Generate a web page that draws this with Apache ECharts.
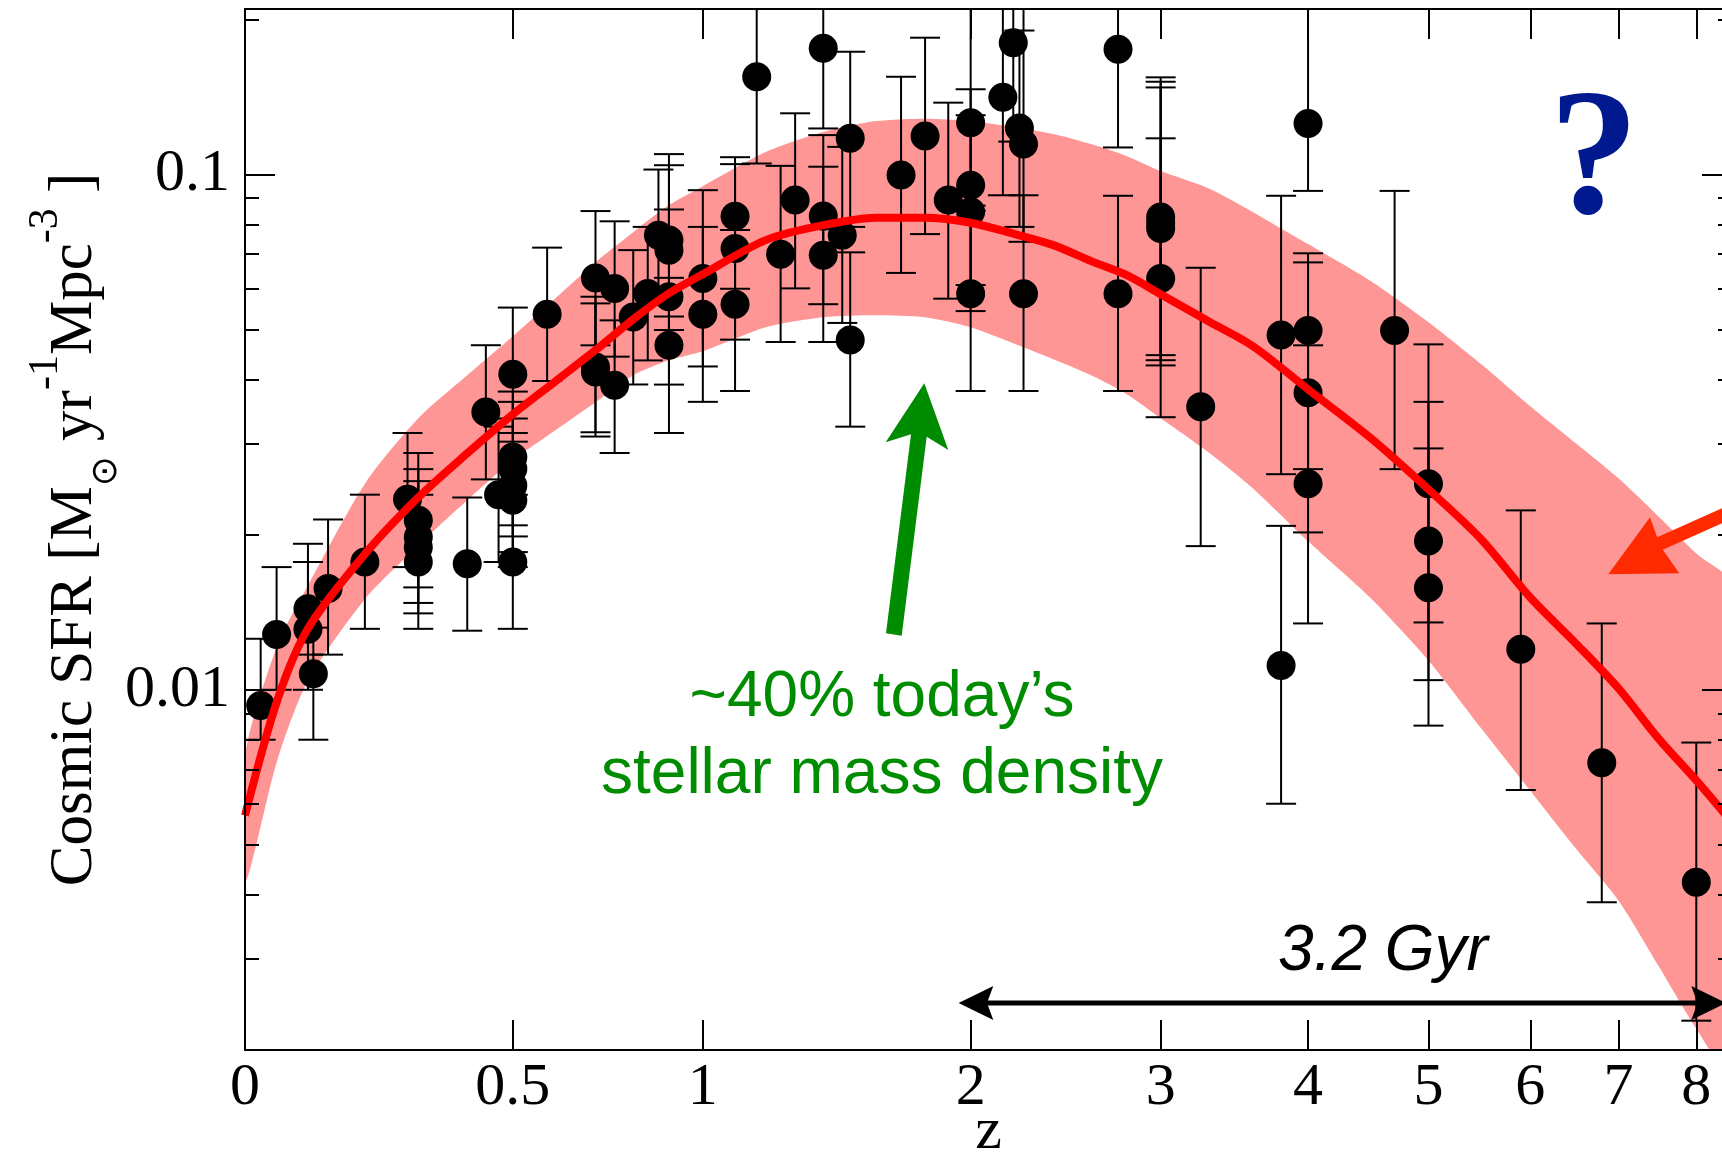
<!DOCTYPE html>
<html><head><meta charset="utf-8">
<script src="https://cdn.jsdelivr.net/npm/echarts@6/dist/echarts.min.js"></script>
<style>html,body{margin:0;padding:0;background:#fff}#c{width:1722px;height:1153px}</style>
</head><body><div id="c"></div>
<script>
// ---------- data ----------
const zTicks = [0, 0.5, 1, 2, 3, 4, 5, 6, 7, 8];
const yMajorTicks = [0.01, 0.1];
const yMinorTicks = [0.003, 0.004, 0.005, 0.006, 0.007, 0.008, 0.009,
                     0.02, 0.03, 0.04, 0.05, 0.06, 0.07, 0.08, 0.09, 0.2];
const zRange = [0, 8.5];
const sfrRange = [0.002, 0.2094];

// model curve and its shaded band
const curveZ = [0,0.05,0.1,0.2,0.3,0.4,0.5,0.6,0.7,0.8,0.9,1.0,1.2,1.4,1.6,1.8,2.0,2.2,2.4,2.6,2.8,3.0,3.3,3.6,4.0,4.5,5.0,5.5,6.0,6.5,7.0,7.5,8.0,8.5];
const curveSFR = [0.0057,0.00953,0.01315,0.01839,0.02362,0.02876,0.03424,0.03968,0.04559,0.05236,0.05881,0.06403,0.07457,0.07971,0.08241,0.08241,0.0806,0.07674,0.07291,0.06788,0.06375,0.05855,0.0519,0.04641,0.03829,0.03076,0.02448,0.01958,0.0151,0.0123,0.01006,0.00804,0.00667,0.00553];
const bandUpper = [0.00746,0.01219,0.01594,0.0252,0.03363,0.04076,0.04853,0.05751,0.06757,0.07727,0.0872,0.0949,0.1105,0.1208,0.1269,0.1283,0.1269,0.1235,0.1198,0.1145,0.1085,0.1015,0.094,0.08449,0.07324,0.06205,0.05167,0.04281,0.03549,0.03008,0.02572,0.0217,0.01839,0.01594];
const bandLower = [0.00422,0.00729,0.01042,0.01504,0.01906,0.02331,0.02787,0.03188,0.03613,0.04076,0.04358,0.04539,0.05053,0.05284,0.05332,0.05284,0.05053,0.04703,0.04378,0.04076,0.03745,0.03363,0.02889,0.02459,0.01941,0.01504,0.0114,0.00841,0.00637,0.00492,0.0039,0.00291,0.0022,0.00178];

// measurements with error bars
const pointZ = [0.024,0.049,0.10,0.10,0.109,0.134,0.199,0.279,0.30,0.30,0.30,0.30,0.40,0.44,0.468,0.50,0.50,0.50,0.50,0.50,0.50,0.58,0.70,0.70,0.70,0.75,0.75,0.80,0.84,0.87,0.90,0.90,0.90,0.90,1.00,1.00,1.10,1.10,1.10,1.17,1.25,1.30,1.40,1.40,1.40,1.47,1.50,1.50,1.70,1.80,1.90,2.00,2.00,2.00,2.00,2.15,2.20,2.23,2.25,2.25,2.75,2.75,3.00,3.00,3.00,3.00,3.25,3.80,3.80,4.00,4.00,4.00,4.00,4.70,5.00,5.00,5.00,5.90,6.80,8.00];
const pointSFR = [0.00932,0.0128,0.01437,0.01311,0.01074,0.01573,0.01769,0.02342,0.02132,0.01979,0.01891,0.01769,0.01757,0.03459,0.0239,0.04094,0.02829,0.02686,0.02492,0.02331,0.01769,0.05354,0.06297,0.04229,0.04136,0.06006,0.03899,0.05291,0.05873,0.0762,0.0746,0.0713,0.0579,0.0466,0.06279,0.05354,0.08298,0.07186,0.05599,0.1547,0.070,0.0892,0.1757,0.083,0.0697,0.0762,0.1175,0.0477,0.0997,0.1187,0.0892,0.1259,0.0953,0.0846,0.0587,0.1411,0.18,0.1231,0.1145,0.0587,0.1749,0.0587,0.0827,0.0806,0.0785,0.0628,0.0354,0.0488,0.01115,0.1256,0.0498,0.0377,0.0251,0.0498,0.0251,0.01943,0.01578,0.01198,0.00722,0.00423];
const pointLo = [0.0080,0.0100,0.0117,0.0100,0.0080,0.0117,0.01313,0.0173,0.0158,0.01474,0.01407,0.01313,0.01302,0.0256,0.0177,0.0315,0.02085,0.01984,0.0185,0.0173,0.01313,0.03973,0.0466,0.0316,0.0310,0.0443,0.0288,0.03912,0.04356,0.0560,0.0499,0.0530,0.0391,0.0315,0.0424,0.0362,0.0600,0.0478,0.0380,0.105,0.0473,0.0601,0.1228,0.0560,0.0473,0.0515,0.0791,0.0324,0.0644,0.0766,0.0574,0.085,0.061,0.0543,0.038,0.0911,0.1158,0.0791,0.074,0.038,0.1128,0.038,0.0446,0.0436,0.0426,0.0338,0.0190,0.0262,0.00601,0.0929,0.0268,0.0202,0.01345,0.0268,0.01351,0.01044,0.00852,0.00639,0.00387,0.00228];
const pointHi = [0.01256,0.0173,0.0192,0.0177,0.0132,0.0214,0.02391,0.0315,0.0288,0.0268,0.0254,0.0239,0.02361,0.04662,0.0324,0.05516,0.0379,0.0362,0.0336,0.0303,0.0239,0.0721,0.0849,0.0579,0.0562,0.0811,0.0521,0.0713,0.0791,0.1022,0.1095,0.1042,0.0855,0.0630,0.0932,0.0791,0.108,0.1047,0.0780,0.25,0.1039,0.1314,0.25,0.1192,0.1035,0.1131,0.173,0.0706,0.1547,0.1842,0.1378,0.25,0.1463,0.1303,0.087,0.25,0.25,0.1902,0.25,0.0911,0.25,0.0909,0.1543,0.1513,0.1475,0.1175,0.0659,0.0909,0.0208,0.25,0.0703,0.0675,0.0466,0.0929,0.0468,0.0362,0.0294,0.02229,0.01345,0.0079];

// ---------- helpers ----------
const L = Math.log10;
const X = z => L(1 + z);
const xMin = X(zRange[0]), xMax = X(zRange[1]);
const yMin = L(sfrRange[0]), yMax = L(sfrRange[1]);
const serif = '"Liberation Serif", "Times New Roman", serif';
const sans = '"Liberation Sans", Arial, Helvetica, sans-serif';
const xTickVals = zTicks.map(X);
const yMajVals = yMajorTicks.map(L);
const yMinVals = yMinorTicks.map(L);

function xAxisDef(pos, labels) {
  return {
    type: 'value', position: pos, min: xMin, max: xMax, z: 10,
    axisLine: {show: true, onZero: false, lineStyle: {color: '#000', width: 2}},
    splitLine: {show: false},
    axisTick: {show: true, inside: true, length: 30, customValues: xTickVals, lineStyle: {color: '#000', width: 2}},
    axisLabel: {show: labels, customValues: xTickVals, margin: 8, fontSize: 60, fontFamily: serif, color: '#000',
      formatter: v => String(Math.round((Math.pow(10, v) - 1) * 10) / 10)}
  };
}
function yAxisDef(pos, major, extra) {
  return Object.assign({
    type: 'value', position: pos, min: yMin, max: yMax, z: 10,
    axisLine: {show: major, onZero: false, lineStyle: {color: '#000', width: 2}},
    splitLine: {show: false},
    axisTick: {show: true, inside: true, length: major ? 30 : 14, customValues: major ? yMajVals : yMinVals,
      lineStyle: {color: '#000', width: 2}},
    axisLabel: {show: false}
  }, extra || {});
}

const yTitle = '{m|Cosmic SFR [M}{sub|\u2299}{m| yr}{sup|-1}{m|Mpc}{sup|-3}{m| ]}';

function clipRect(params) {
  const cs = params.coordSys;
  return {type: 'rect', shape: {x: cs.x, y: cs.y, width: cs.width, height: cs.height}};
}
function renderBand(params, api) {
  const up = curveZ.map((z, i) => api.coord([X(z), L(bandUpper[i])]));
  const lo = curveZ.map((z, i) => api.coord([X(z), L(bandLower[i])])).reverse();
  return {type: 'polygon', shape: {points: up.concat(lo), smooth: 0.25},
    style: {fill: '#ff9696'}, clipPath: clipRect(params)};
}
function renderErrorBar(params, api) {
  const x = api.value(0), lo = api.value(1), hi = api.value(2);
  const top = Math.min(hi, yMax), bot = Math.max(lo, yMin);
  const p1 = api.coord([x, top]), p2 = api.coord([x, bot]);
  const hw = 15;
  const st = {stroke: '#000', lineWidth: 2};
  const ch = [{type: 'line', shape: {x1: p1[0], y1: p1[1], x2: p2[0], y2: p2[1]}, style: st}];
  if (hi <= yMax) ch.push({type: 'line', shape: {x1: p1[0] - hw, y1: p1[1], x2: p1[0] + hw, y2: p1[1]}, style: st});
  if (lo >= yMin) ch.push({type: 'line', shape: {x1: p2[0] - hw, y1: p2[1], x2: p2[0] + hw, y2: p2[1]}, style: st});
  return {type: 'group', children: ch};
}

const chart = echarts.init(document.getElementById('c'), null, {renderer: 'canvas'});
chart.setOption({
  animation: false,
  backgroundColor: '#fff',
  grid: {left: 245, top: 9, width: 1487, height: 1041, containLabel: false, outerBoundsMode: 'none'},
  xAxis: [
    Object.assign(xAxisDef('bottom', true), {
      name: 'z', nameLocation: 'middle', nameGap: 52, nameMoveOverlap: false,
      nameTextStyle: {fontFamily: serif, fontSize: 60, color: '#000'}
    }),
    xAxisDef('top', false)
  ],
  yAxis: [
    yAxisDef('left', true, {
      axisLabel: {show: true, customValues: yMajVals, margin: 15, fontSize: 60, fontFamily: serif, color: '#000',
        formatter: v => String(Math.round(Math.pow(10, v) * 1000) / 1000)},
      name: yTitle, nameLocation: 'middle', nameRotate: 90, nameGap: 120, nameMoveOverlap: false,
      nameTextStyle: {
        fontFamily: serif, fontSize: 61, color: '#000', lineHeight: 100,
        rich: {
          m: {fontFamily: serif, fontSize: 61, lineHeight: 100, color: '#000'},
          sup: {fontFamily: serif, fontSize: 42, lineHeight: 28, verticalAlign: 'top', color: '#000'},
          sub: {fontFamily: '"DejaVu Sans"', fontSize: 36, lineHeight: 46, verticalAlign: 'bottom', color: '#000'}
        }
      }
    }),
    yAxisDef('left', false),
    yAxisDef('right', true),
    yAxisDef('right', false)
  ],
  series: [
    {type: 'custom', renderItem: renderBand, z: 1, silent: true,
      encode: {x: 0, y: 1}, data: [[xMin, yMin]]},
    {type: 'custom', renderItem: renderErrorBar, z: 3, silent: true,
      encode: {x: 0, y: [1, 2]},
      data: pointZ.map((z, i) => [X(z), L(pointLo[i]), L(pointHi[i])])},
    {type: 'scatter', symbol: 'circle', symbolSize: 29, z: 4, silent: true,
      itemStyle: {color: '#000', opacity: 1},
      data: pointZ.map((z, i) => [X(z), L(pointSFR[i])])},
    {type: 'line', symbol: 'none', smooth: 0.3, z: 5, silent: true,
      lineStyle: {color: '#ff0000', width: 8},
      data: curveZ.map((z, i) => [X(z), L(curveSFR[i])])}
  ],
  graphic: [
    {type: 'polygon', z: 100, shape: {points: [[924.3,383.3],[948.3,450],[926.7,436.7],[901.7,635.7],[886,633.3],[911,434.3],[885.7,442.3]]},
      style: {fill: '#008c00'}},
    {type: 'text', z: 100, x: 882, y: 698, style: {text: '~40% today\u2019s', fontFamily: sans, fontSize: 64, fill: '#008c00',
      align: 'center', verticalAlign: 'middle', textAlign: 'center', textVerticalAlign: 'middle'}},
    {type: 'text', z: 100, x: 882, y: 775, style: {text: 'stellar mass density', fontFamily: sans, fontSize: 64, fill: '#008c00',
      align: 'center', verticalAlign: 'middle', textAlign: 'center', textVerticalAlign: 'middle'}},
    {type: 'text', z: 100, x: 1594, y: 165, style: {text: '?', fontFamily: serif, fontWeight: 'bold', fontSize: 180, fill: '#00198f',
      align: 'center', verticalAlign: 'middle', textAlign: 'center', textVerticalAlign: 'middle'}},
    {type: 'polygon', z: 100, shape: {points: [[1608.3,574.3],[1650,517.3],[1657.2,537.2],[1757.2,492.5],[1762.8,505.1],[1662.8,549.8],[1679.3,573.3]]},
      style: {fill: '#ff2a00'}},
    {type: 'line', z: 100, shape: {x1: 980, y1: 1003, x2: 1705, y2: 1003}, style: {stroke: '#000', lineWidth: 5}},
    {type: 'polygon', z: 100, shape: {points: [[958.6,1003],[993.3,986],[987,1003],[993.3,1020]]}, style: {fill: '#000'}},
    {type: 'polygon', z: 100, shape: {points: [[1726,1003],[1691.3,986],[1697.6,1003],[1691.3,1020]]}, style: {fill: '#000'}},
    {type: 'text', z: 100, x: 1383, y: 952, style: {text: '3.2 Gyr', fontFamily: sans, fontStyle: 'italic', fontSize: 64, fill: '#000',
      align: 'center', verticalAlign: 'middle', textAlign: 'center', textVerticalAlign: 'middle'}}
  ]
});
</script>
</body></html>
